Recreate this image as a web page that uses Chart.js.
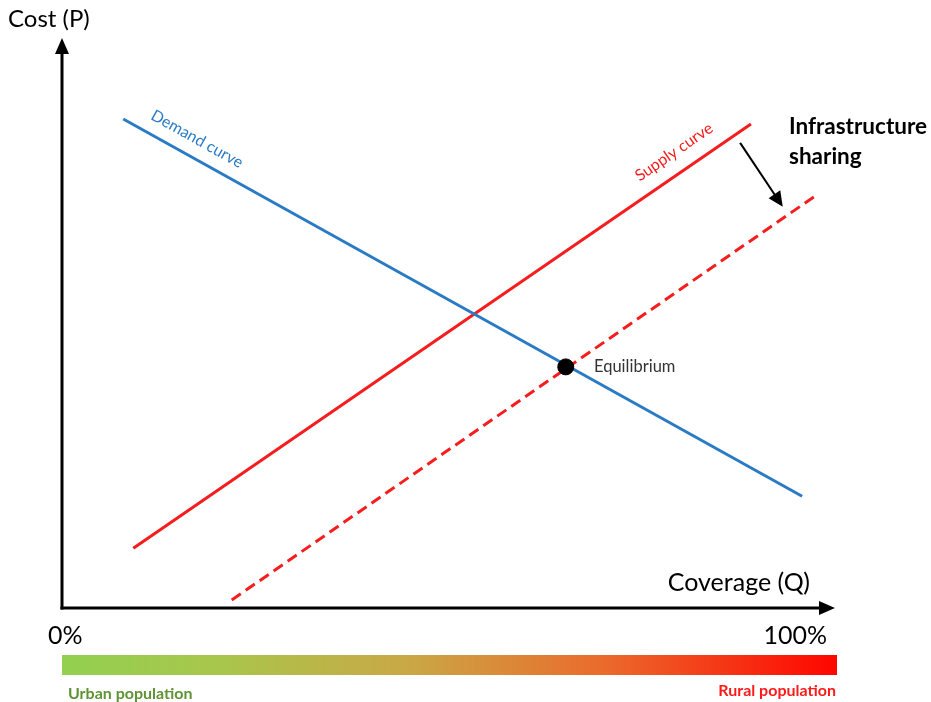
<!DOCTYPE html>
<html>
<head>
<meta charset="utf-8">
<script src="https://cdn.jsdelivr.net/npm/chart.js@4.4.0/dist/chart.umd.min.js"></script>
<style>
  body { margin: 0; background: #fff; }
  canvas { display: block; }
</style>
</head>
<body>
<canvas id="supplyDemand" width="931" height="702"></canvas>
<script>
// coverage (Q) in %, cost (P) in arbitrary units 0..100
const demandX = [7.9, 95.5]
const demandY = [85.8, 19.6]
const supplyX = [9.2, 88.9]
const supplyY = [10.5, 84.9]
const sharedX = [21.9, 97.2]
const sharedY = [1.4, 72.3]
const equilibriumX = [65.0]
const equilibriumY = [42.3]
// shift arrow (start, end)
const shiftX = [87.5, 93.0]
const shiftY = [81.6, 70.4]
const coverageTicks = ['0%', '100%']

const blue = '#2b7bc4'
const red = '#f51d1d'

function toPoints(xs, ys) {
    return xs.map((x, i) => ({ x: x, y: ys[i] }))
}

function arrowHead(ctx, x1, y1, x2, y2, len, wid) {
    let a = Math.atan2(y2 - y1, x2 - x1)
    ctx.beginPath()
    ctx.moveTo(x2, y2)
    ctx.lineTo(x2 - len * Math.cos(a) + wid * Math.sin(a), y2 - len * Math.sin(a) - wid * Math.cos(a))
    ctx.lineTo(x2 - len * Math.cos(a) - wid * Math.sin(a), y2 - len * Math.sin(a) + wid * Math.cos(a))
    ctx.closePath()
    ctx.fill()
}

function rotatedText(ctx, text, x, y, angle, font, color) {
    ctx.save()
    ctx.translate(x, y)
    ctx.rotate(angle)
    ctx.font = font
    ctx.fillStyle = color
    ctx.textAlign = 'center'
    ctx.textBaseline = 'middle'
    ctx.fillText(text, 0, 0)
    ctx.restore()
}

// axes, arrows, labels and the urban/rural bar
const diagramPlugin = {
    id: 'diagram',
    afterDraw(chart) {
        const ctx = chart.ctx
        const xs = chart.scales.x
        const ys = chart.scales.y
        const x0 = xs.getPixelForValue(0)
        const x100 = xs.getPixelForValue(100)
        const y0 = ys.getPixelForValue(0)
        const yTop = ys.getPixelForValue(100)

        ctx.save()
        ctx.strokeStyle = '#000'
        ctx.fillStyle = '#000'
        ctx.lineWidth = 3
        // y axis
        ctx.beginPath()
        ctx.moveTo(x0, y0 + 1.5)
        ctx.lineTo(x0, yTop + 14)
        ctx.stroke()
        arrowHead(ctx, x0, y0, x0, yTop, 16, 7)
        // x axis
        ctx.beginPath()
        ctx.moveTo(x0 - 1.5, y0)
        ctx.lineTo(x100 - 16, y0)
        ctx.stroke()
        arrowHead(ctx, x0, y0, x100 - 2, y0, 16, 7)

        // infrastructure sharing shift arrow
        let ax1 = xs.getPixelForValue(shiftX[0]), ay1 = ys.getPixelForValue(shiftY[0])
        let ax2 = xs.getPixelForValue(shiftX[1]), ay2 = ys.getPixelForValue(shiftY[1])
        ctx.lineWidth = 2
        let a = Math.atan2(ay2 - ay1, ax2 - ax1)
        ctx.beginPath()
        ctx.moveTo(ax1, ay1)
        ctx.lineTo(ax2 - 12 * Math.cos(a), ay2 - 12 * Math.sin(a))
        ctx.stroke()
        arrowHead(ctx, ax1, ay1, ax2, ay2, 15, 7)

        // axis titles
        ctx.font = '24px Lato'
        ctx.textBaseline = 'middle'
        ctx.textAlign = 'left'
        ctx.fillText('Cost (P)', 8, 19)
        ctx.font = '25px Lato'
        ctx.textAlign = 'right'
        ctx.fillText('Coverage (Q)', 810, 583)
        ctx.textAlign = 'left'
        ctx.fillText(coverageTicks[0], x0 - 14, 636)
        ctx.textAlign = 'right'
        ctx.fillText(coverageTicks[1], x100 - 10, 636)

        ctx.font = 'bold 22.5px Lato'
        ctx.textAlign = 'left'
        ctx.fillText('Infrastructure', 789, 127)
        ctx.fillText('sharing', 789, 157)

        ctx.font = '16.5px Lato'
        ctx.fillStyle = '#333'
        ctx.fillText('Equilibrium', 594, 367)

        rotatedText(ctx, 'Demand curve', 197, 139, Math.atan2(377, 679), '16px Lato', blue)
        rotatedText(ctx, 'Supply curve', 674, 152, -Math.atan2(424, 618), '16px Lato', red)

        // urban -> rural gradient bar
        let grad = ctx.createLinearGradient(x0, 0, x100, 0)
        grad.addColorStop(0, '#92d050')
        grad.addColorStop(0.2, '#a8c64c')
        grad.addColorStop(0.45, '#caa745')
        grad.addColorStop(0.7, '#eb6a2c')
        grad.addColorStop(1, '#ff0500')
        ctx.fillStyle = grad
        ctx.fillRect(x0, 655, x100 - x0, 20)

        ctx.font = 'bold 16px Lato'
        ctx.fillStyle = '#5e9434'
        ctx.textAlign = 'left'
        ctx.fillText('Urban population', 68, 694)
        ctx.fillStyle = '#ff1a1a'
        ctx.textAlign = 'right'
        ctx.fillText('Rural population', x100 - 1, 691)
        ctx.restore()
    }
}

new Chart(document.getElementById('supplyDemand'), {
    type: 'scatter',
    data: {
        datasets: [{
            label: 'Equilibrium',
            data: toPoints(equilibriumX, equilibriumY),
            backgroundColor: '#000',
            borderColor: '#000',
            pointRadius: 8,
            order: -1
        },
        {
            label: 'Demand curve',
            data: toPoints(demandX, demandY),
            showLine: true,
            borderColor: blue,
            borderWidth: 3,
            pointRadius: 0
        },
        {
            label: 'Supply curve',
            data: toPoints(supplyX, supplyY),
            showLine: true,
            borderColor: red,
            borderWidth: 3,
            pointRadius: 0
        },
        {
            label: 'Supply curve (sharing)',
            data: toPoints(sharedX, sharedY),
            showLine: true,
            borderColor: red,
            borderWidth: 3,
            borderDash: [11, 6],
            pointRadius: 0
        }]
    },
    options: {
        responsive: false,
        animation: false,
        layout: {
            padding: { left: 62, right: 94, top: 38, bottom: 94 }
        },
        plugins: {
            legend: { display: false },
            tooltip: { enabled: false }
        },
        scales: {
            x: { type: 'linear', min: 0, max: 100, display: false },
            y: { type: 'linear', min: 0, max: 100, display: false }
        }
    },
    plugins: [diagramPlugin]
})
</script>
</body>
</html>
